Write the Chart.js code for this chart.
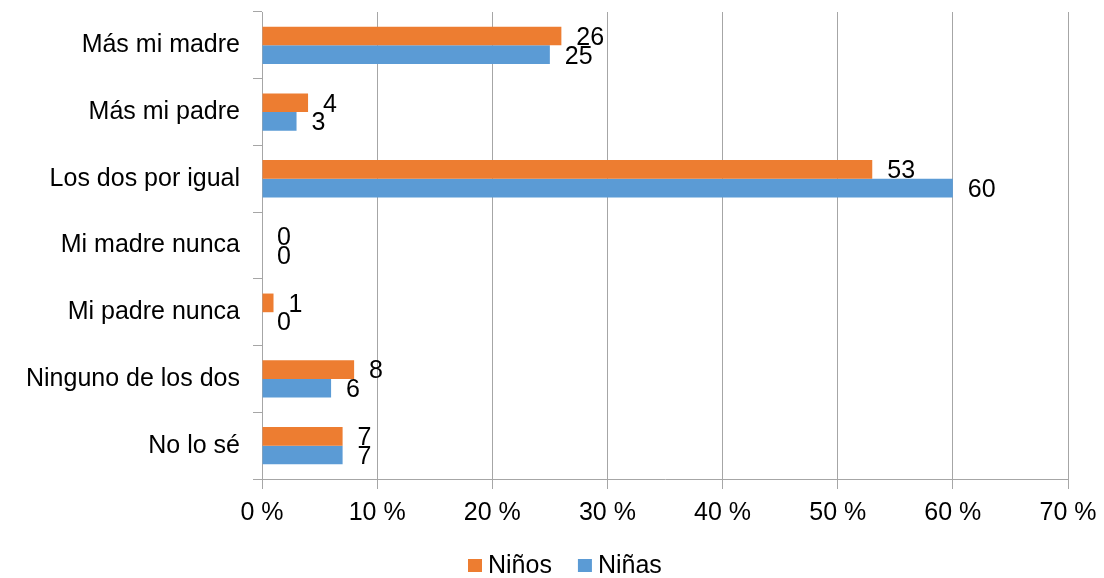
<!DOCTYPE html>
<html>
<head>
<meta charset="utf-8">
<script src="https://cdn.jsdelivr.net/npm/chart.js@4"></script>
<style>
  html, body { margin: 0; padding: 0; background: #fff; }
  #wrap { width: 1104px; height: 578px; }
</style>
</head>
<body>
<div id="wrap"><canvas id="myChart" width="1104" height="578"></canvas></div>
<script>
const categories = ['Más mi madre', 'Más mi padre', 'Los dos por igual', 'Mi madre nunca', 'Mi padre nunca', 'Ninguno de los dos', 'No lo sé'];
const ninos = [26, 4, 53, 0, 1, 8, 7];
const ninas = [25, 3, 60, 0, 0, 6, 7];
const xTicks = [0, 10, 20, 30, 40, 50, 60, 70];

const gray = '#a6a6a6';
const fontFam = '"Liberation Sans", Arial, sans-serif';
const fs = 25;

// labels at the end of each bar
const barLabels = {
  id: 'barLabels',
  afterDatasetsDraw(chart) {
    const ctx = chart.ctx;
    ctx.save();
    ctx.font = fs + 'px ' + fontFam;
    ctx.fillStyle = '#000';
    ctx.textAlign = 'left';
    ctx.textBaseline = 'middle';
    chart.data.datasets.forEach((ds, i) => {
      const meta = chart.getDatasetMeta(i);
      meta.data.forEach((bar, j) => {
        ctx.fillText(String(ds.data[j]), bar.x + 15, bar.y + 2);
      });
    });
    ctx.restore();
  }
};

// legend below the axis, drawn by hand so the gaps match
const bottomLegend = {
  id: 'bottomLegend',
  afterDraw(chart) {
    const ctx = chart.ctx;
    ctx.save();
    ctx.font = fs + 'px ' + fontFam;
    ctx.textBaseline = 'middle';
    let x = 468;
    const y = 566;
    chart.data.datasets.forEach((ds) => {
      ctx.fillStyle = ds.backgroundColor;
      ctx.fillRect(x, y - 7, 14, 13);
      x += 20;
      ctx.fillStyle = '#000';
      ctx.fillText(ds.label, x, y);
      x += ctx.measureText(ds.label).width + 26;
    });
    ctx.restore();
  }
};

const ctx = document.getElementById('myChart').getContext('2d');
let myChart = new Chart(ctx, {
  type: 'bar',
  data: {
    labels: categories,
    datasets: [{
      label: 'Niños',
      data: ninos,
      backgroundColor: '#ED7D31',
      barPercentage: 1,
      categoryPercentage: 0.56
    }, {
      label: 'Niñas',
      data: ninas,
      backgroundColor: '#5B9BD5',
      barPercentage: 1,
      categoryPercentage: 0.56
    }]
  },
  options: {
    indexAxis: 'y',
    responsive: false,
    animation: false,
    layout: { padding: { top: 12, right: 36, left: 0, bottom: 0 } },
    plugins: {
      legend: { display: false },
      tooltip: { enabled: false }
    },
    scales: {
      x: {
        min: 0,
        max: 70,
        afterBuildTicks: (axis) => { axis.ticks = xTicks.map(v => ({ value: v })); },
        afterFit: (axis) => {
          axis.height = 99;
          axis.paddingLeft = 0;
          axis.paddingRight = 0;
        },
        grid: {
          color: gray,
          tickLength: 10,
          tickColor: gray
        },
        border: { color: gray },
        ticks: {
          color: '#000',
          padding: 9,
          font: { size: fs, family: fontFam },
          callback: (v) => v + ' %'
        }
      },
      y: {
        afterFit: (axis) => {
          axis.width = 262;
          axis.paddingTop = 0;
          axis.paddingBottom = 0;
        },
        grid: {
          offset: true,
          drawOnChartArea: false,
          tickLength: 9,
          tickColor: gray
        },
        border: { color: gray },
        ticks: {
          color: '#000',
          padding: 13,
          font: { size: fs, family: fontFam }
        }
      }
    }
  },
  plugins: [barLabels, bottomLegend]
});
</script>
</body>
</html>
